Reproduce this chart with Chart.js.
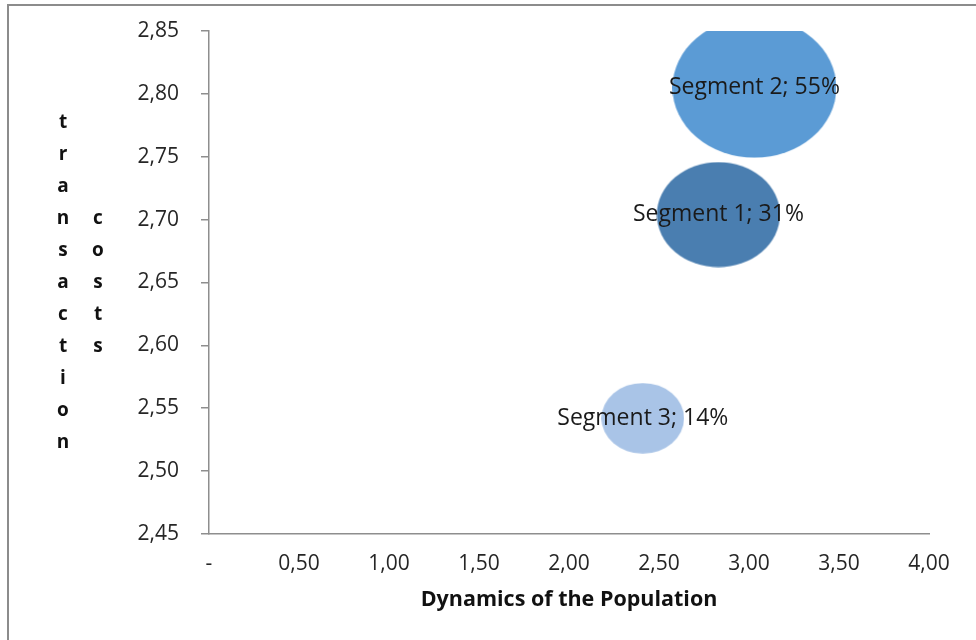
<!DOCTYPE html>
<html>
<head>
<meta charset="utf-8">
<title>Segments bubble chart</title>
<script src="https://cdn.jsdelivr.net/npm/chart.js"></script>
<style>
  html, body { margin: 0; padding: 0; background: #fff; }
  #wrap { position: relative; width: 976px; height: 640px; overflow: hidden; }
  #frame { position: absolute; left: 7px; top: 4px; right: -10px; bottom: -10px;
           border-left: 2px solid #8c8c8c; border-top: 2px solid #8c8c8c; }
  .ytitle { position: absolute; width: 30px; font: bold 19px "Open Sans", sans-serif;
            color: #111; text-align: center; }
  .ytitle span { display: block; height: 32px; line-height: 32px; }
</style>
</head>
<body>
<div id="wrap">
  <canvas id="chart" width="976" height="640"></canvas>
  <div id="frame"></div>
  <div class="ytitle" id="yTitle1" style="left:48px; top:105px;"></div>
  <div class="ytitle" id="yTitle2" style="left:83px; top:201px;"></div>
</div>
<script>
// Chart data
const segments = ["Segment 1", "Segment 2", "Segment 3"];
const dynamics = [2.83, 3.03, 2.41];        // x: Dynamics of the Population
const transCosts = [2.704, 2.805, 2.542];   // y: transaction costs
const shares = [31, 55, 14];                // bubble size, %
const colors = ["#4a7eb0", "#5b9bd5", "#a9c4e7"];

const xMin = 0, xMax = 4, xStep = 0.5;
const yMin = 2.45, yMax = 2.85, yStep = 0.05;

const axisColor = "#8e8e8e";
const tickColor = "#262626";

// y-axis title is stacked letter by letter in two columns
function fillStacked(id, word) {
  const el = document.getElementById(id);
  word.split("").forEach((ch) => {
    const s = document.createElement("span");
    s.textContent = ch;
    el.appendChild(s);
  });
}
fillStacked("yTitle1", "transaction");
fillStacked("yTitle2", "costs");

function commaNum(v) {
  return v.toFixed(2).replace(".", ",");
}

// Bubbles look slightly stretched sideways, so draw them as ellipses
function ellipseImage(share, color) {
  const rx = 11.05 * Math.sqrt(share);
  const ry = 9.45 * Math.sqrt(share);
  const c = document.createElement("canvas");
  c.width = Math.ceil(rx * 2);
  c.height = Math.ceil(ry * 2);
  const g = c.getContext("2d");
  g.fillStyle = color;
  g.beginPath();
  g.ellipse(c.width / 2, c.height / 2, rx, ry, 0, 0, Math.PI * 2);
  g.fill();
  return c;
}

// Labels in the middle of each bubble
const bubbleLabels = {
  id: "bubbleLabels",
  afterDatasetsDraw(chart) {
    const ctx = chart.ctx;
    ctx.save();
    ctx.font = '23px "Open Sans", sans-serif';
    ctx.fillStyle = "#1a1a1a";
    ctx.textAlign = "center";
    ctx.textBaseline = "middle";
    chart.data.datasets.forEach((ds, i) => {
      chart.getDatasetMeta(i).data.forEach((pt) => {
        ctx.fillText(segments[i] + "; " + shares[i] + "%", pt.x, pt.y);
      });
    });
    ctx.restore();
  },
};

const datasets = segments.map((name, i) => ({
  label: name,
  data: [{ x: dynamics[i], y: transCosts[i], r: 11.05 * Math.sqrt(shares[i]) }],
  pointStyle: ellipseImage(shares[i], colors[i]),
  backgroundColor: colors[i],
  borderWidth: 0,
  clip: 0,
}));

new Chart(document.getElementById("chart"), {
  type: "bubble",
  data: { datasets: datasets },
  plugins: [bubbleLabels],
  options: {
    responsive: false,
    animation: false,
    events: [],
    layout: { autoPadding: false, padding: { top: 31, right: 47, left: 0, bottom: 0 } },
    plugins: {
      legend: { display: false },
      tooltip: { enabled: false },
    },
    scales: {
      x: {
        type: "linear",
        min: xMin,
        max: xMax,
        afterFit: (scale) => { scale.height = 106; },
        ticks: {
          stepSize: xStep,
          padding: 17,
          color: tickColor,
          font: { family: "Open Sans", size: 21 },
          callback: (v) => (v === 0 ? "-" : commaNum(v)),
        },
        grid: { display: false, drawTicks: false },
        border: { display: true, color: axisColor, width: 1.5 },
        title: {
          display: true,
          text: "Dynamics of the Population",
          color: "#111",
          font: { family: "Open Sans", size: 21.5, weight: "bold" },
          padding: { top: 0, bottom: 27 },
        },
      },
      y: {
        type: "linear",
        min: yMin,
        max: yMax,
        afterFit: (scale) => {
          scale.width = 209;
          scale.paddingTop = 0;
          scale.paddingBottom = 0;
        },
        ticks: {
          stepSize: yStep,
          padding: 22,
          color: tickColor,
          font: { family: "Open Sans", size: 21 },
          callback: (v) => commaNum(v),
        },
        grid: {
          display: true,
          drawOnChartArea: false,
          drawTicks: true,
          tickLength: 8,
          color: axisColor,
          lineWidth: 1.5,
        },
        border: { display: true, color: axisColor, width: 1.5 },
      },
    },
  },
});
</script>
</body>
</html>
